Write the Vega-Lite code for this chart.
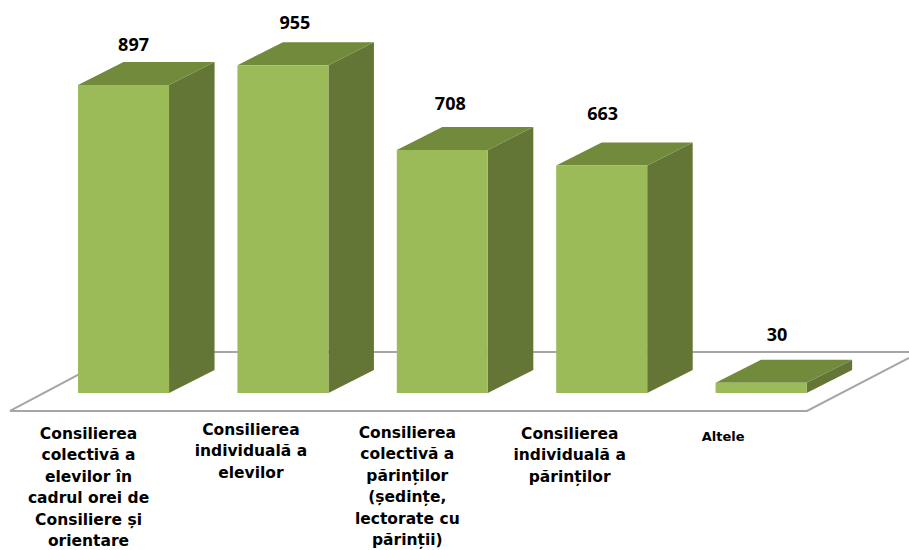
{
"$schema":"https://vega.github.io/schema/vega-lite/v6.json",
"width":909,"height":550,"padding":0,
"autosize":{"type":"none"},
"background":"white",
"config":{"view":{"stroke":null}},
"datasets":{
"bars":[
{"slot":0,"value":897,"label":"Consilierea\ncolectivă a\nelevilor în\ncadrul orei de\nConsiliere și\norientare"},
{"slot":1,"value":955,"label":"Consilierea\nindividuală a\nelevilor"},
{"slot":2,"value":708,"label":"Consilierea\ncolectivă a\npărinților\n(ședințe,\nlectorate cu\npărinții)"},
{"slot":3,"value":663,"label":"Consilierea\nindividuală a\npărinților"},
{"slot":4,"value":30,"label":"Altele"}
],
"floor":[
{"order":0,"s":4.928,"v":119.4},
{"order":1,"s":-0.016,"v":119.4},
{"order":2,"s":-0.712,"v":-52.4},
{"order":3,"s":4.288,"v":-52.4},
{"order":4,"s":4.928,"v":102}
]
},
"layer":[
{"data":{"name":"floor"},
"mark":{"type":"line","color":"#a6a6a6","strokeWidth":2,"clip":false},
"encoding":{
"x":{"field":"s","type":"quantitative","scale":{"domain":[-0.775,4.928],"nice":false,"zero":false},"axis":null},
"y":{"field":"v","type":"quantitative","scale":{"domain":[-457.3,1144.7],"nice":false,"zero":false},"axis":null},
"order":{"field":"order"}}},
{"data":{"name":"bars"},
"transform":[
{"calculate":"[0,1]","as":"t"},{"flatten":["t"]},
{"calculate":"datum.slot+0.2855+datum.t*0.2855","as":"px"},
{"calculate":"datum.value+67*datum.t","as":"upper"},
{"calculate":"67*datum.t","as":"lower"}],
"mark":{"type":"area","color":"#637635","opacity":1},
"encoding":{
"x":{"field":"px","type":"quantitative","axis":null},
"y":{"field":"upper","type":"quantitative","stack":null,"axis":null},
"y2":{"field":"lower"},
"detail":{"field":"slot"}}},
{"data":{"name":"bars"},
"transform":[
{"calculate":"[0,1,2,3]","as":"t"},{"flatten":["t"]},
{"calculate":"datum.slot+(datum.t-1)*0.2855","as":"px"},
{"calculate":"datum.t>=1?datum.value+67:datum.value","as":"upper"},
{"calculate":"datum.t>=3?datum.value+67:datum.value","as":"lower"}],
"mark":{"type":"area","color":"#718a3c","opacity":1},
"encoding":{
"x":{"field":"px","type":"quantitative","axis":null},
"y":{"field":"upper","type":"quantitative","stack":null,"axis":null},
"y2":{"field":"lower"},
"detail":{"field":"slot"}}},
{"data":{"name":"bars"},
"transform":[
{"calculate":"datum.slot-0.2855","as":"left"},
{"calculate":"datum.slot+0.2855","as":"right"}],
"mark":{"type":"rect","color":"#9bbb59"},
"encoding":{
"x":{"field":"left","type":"quantitative","axis":null},
"x2":{"field":"right"},
"y":{"field":"value","type":"quantitative","axis":null},
"y2":{"datum":0}}},
{"data":{"name":"bars"},
"mark":{"type":"text","font":"Open Sans","fontWeight":"bold","fontSize":18,"color":"#000000","baseline":"middle","align":"center",
"dx":{"expr":"[10,12,8,1,16][datum.slot]"},
"dy":{"expr":"[-39,-41,-45,-50,-47][datum.slot]"}},
"encoding":{
"x":{"field":"slot","type":"quantitative","axis":null},
"y":{"field":"value","type":"quantitative","axis":null},
"text":{"field":"value","type":"quantitative"}}},
{"data":{"name":"bars"},
"mark":{"type":"text","font":"DejaVu Sans","fontWeight":"bold","fontSize":{"expr":"datum.slot==4?13:15.5"},"color":"#000000","baseline":"top","align":"center","lineBreak":"\n","lineHeight":21.5,
"dx":{"expr":"[-35,-32,-35,-32,-38][datum.slot]"},
"dy":{"expr":"[16,12,15,16,20][datum.slot]"}},
"encoding":{
"x":{"field":"slot","type":"quantitative","axis":null},
"y":{"datum":-52.4,"type":"quantitative","axis":null},
"text":{"field":"label","type":"nominal"}}}
]
}
